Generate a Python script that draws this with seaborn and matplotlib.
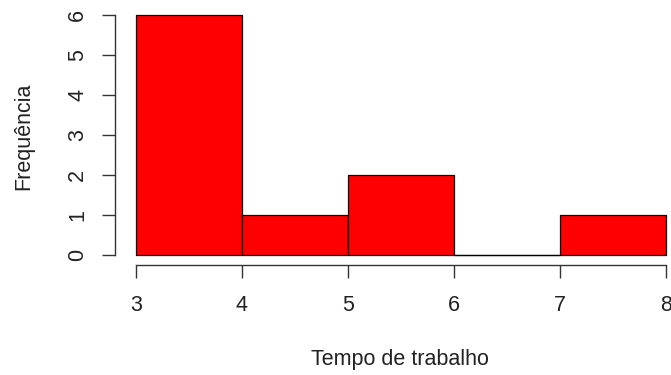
import matplotlib
matplotlib.use("Agg")
import matplotlib.pyplot as plt
import seaborn as sns

# Histogram counts of working time
bin_edges = [3, 4, 5, 6, 7, 8]
counts = [6, 1, 2, 0, 1]
x_ticks = [3, 4, 5, 6, 7, 8]
y_ticks = [0, 1, 2, 3, 4, 5, 6]
x_label = "Tempo de trabalho"
y_label = "Frequência"

sns.set_style("white")
plt.rcParams["font.family"] = ["Liberation Sans", "DejaVu Sans"]

W, H, DPI = 671, 375, 100
FS = 15.5
fig = plt.figure(figsize=(W / DPI, H / DPI), dpi=DPI)
ax = fig.add_axes([136 / W, 1 - 255 / H, (666 - 136) / W, (255 - 15) / H])

mids = [(a + b) / 2 for a, b in zip(bin_edges[:-1], bin_edges[1:])]
sns.histplot(x=mids, weights=counts, bins=bin_edges, ax=ax,
             color="#FF0000", alpha=1, edgecolor="black", linewidth=0.9)
for p in ax.patches:
    p.set_clip_on(False)

# empty bins still show their outline along the baseline
for left, right, c in zip(bin_edges[:-1], bin_edges[1:], counts):
    if c == 0:
        ax.plot([left, right], [c, c], color="black", lw=0.9,
                solid_capstyle="butt", zorder=3, clip_on=False)

ax.set_xlim(3, 8)
ax.set_ylim(0, 6)
for s in ["top", "right"]:
    ax.spines[s].set_visible(False)
ax.spines["left"].set_position(("outward", 21 * 72 / DPI))
ax.spines["bottom"].set_position(("outward", 10 * 72 / DPI))
ax.spines["left"].set_bounds(0, 6)
ax.spines["bottom"].set_bounds(3, 8)
for s in ["left", "bottom"]:
    ax.spines[s].set_color("#333333")
    ax.spines[s].set_linewidth(1.0)

ax.set_xticks(x_ticks)
ax.set_yticks(y_ticks)
ax.tick_params(axis="both", bottom=True, left=True,
               length=13 * 72 / DPI, width=1.0, color="#333333",
               labelsize=FS, labelcolor="#222222", direction="out")
ax.tick_params(axis="x", pad=12)
ax.tick_params(axis="y", pad=10)
for lab in ax.get_yticklabels():
    lab.set_rotation(90)
    lab.set_va("center")
ax.set_xlabel("")
ax.set_ylabel("")

fig.text(400 / W, 1 - 360 / H, x_label, ha="center", va="center",
         fontsize=FS, color="#222222")
fig.text(24 / W, 1 - 136 / H, y_label, ha="center", va="center",
         rotation=90, fontsize=FS, color="#222222")

fig.savefig("out.png", dpi=DPI)
